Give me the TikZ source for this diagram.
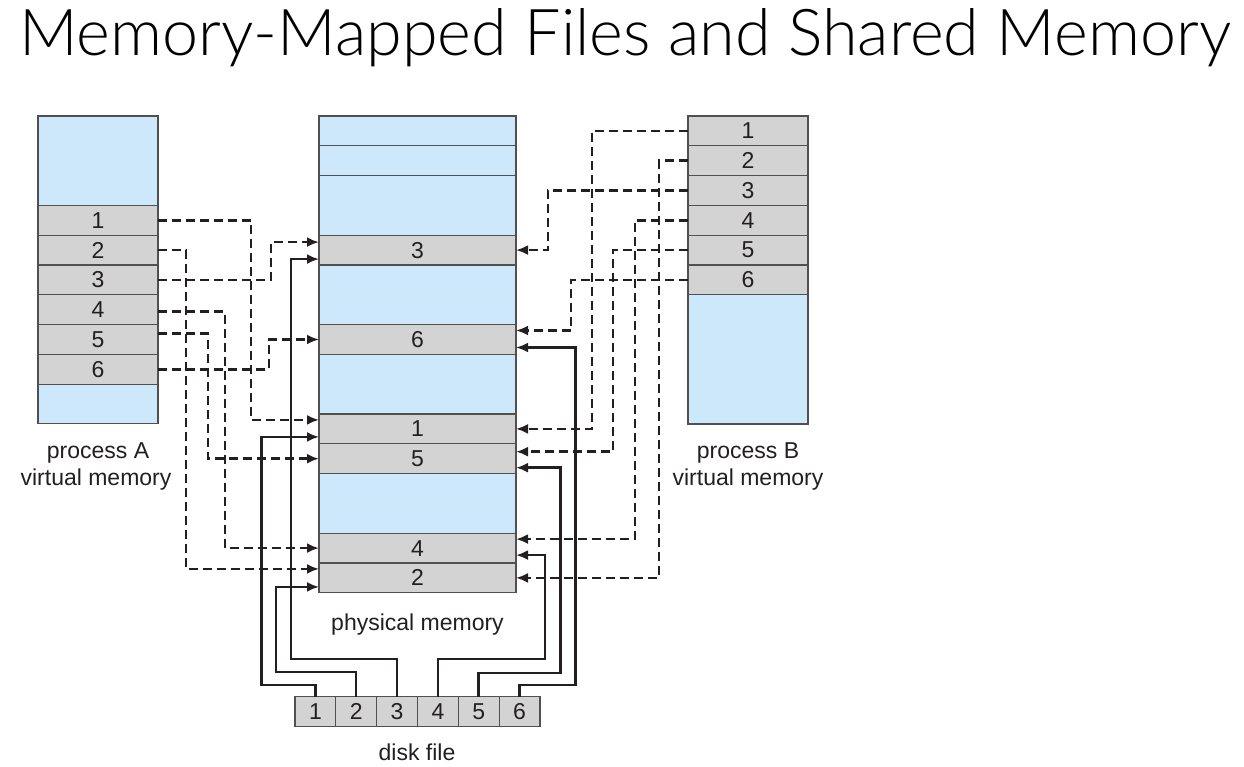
\documentclass[tikz,border=0pt]{standalone}
\usepackage{fontspec}
\setmainfont{Liberation Sans}
\newfontfamily\titlefont{Lato Light}
\usepackage{tikz}
\usetikzlibrary{positioning,arrows.meta}
\definecolor{memblue}{RGB}{205,232,250}
\definecolor{memgray}{RGB}{211,211,211}
\definecolor{memedge}{RGB}{80,80,80}
\definecolor{ink}{RGB}{35,31,32}

\begin{document}
\begin{tikzpicture}[x=1pt,y=-1pt,
  cell/.style={draw=memedge,line width=1.2pt,fill=memgray,inner sep=0pt,outer sep=0pt,
    minimum height=29.8pt,text=ink,font=\fontsize{23}{27}\selectfont},
  vcell/.style={cell,minimum width=120pt},
  pcell/.style={cell,minimum width=197pt},
  dcell/.style={cell,minimum width=40.83pt,minimum height=29.3pt},
  map/.style={ink,line width=2.5pt,dash pattern=on 9pt off 5pt,-{Latex[length=12pt,width=10pt]}},
  load/.style={ink,line width=2.5pt,-{Latex[length=12pt,width=10pt]}},
  lbl/.style={ink,font=\fontsize{23}{27}\selectfont,inner sep=0pt,anchor=base}]
\useasboundingbox (0,0) rectangle (1244,767);

\node[anchor=base west,inner sep=0pt,font=\titlefont\fontsize{64.6}{76}\selectfont] (title) at (19,55.5)
  {Memory-Mapped Files and Shared Memory};

% process A
\node[vcell,fill=memblue,minimum height=89.4pt,anchor=north] (a0) at (98,116) {};
\node[vcell,below=0pt of a0] (a1) {1};
\node[vcell,below=0pt of a1] (a2) {2};
\node[vcell,below=0pt of a2] (a3) {3};
\node[vcell,below=0pt of a3] (a4) {4};
\node[vcell,below=0pt of a4] (a5) {5};
\node[vcell,below=0pt of a5] (a6) {6};
\node[vcell,fill=memblue,minimum height=39.3pt,below=0pt of a6] (a7) {};
\node[lbl] (la1) at (98,458) {process A};
\node[lbl] (la2) at (96,485) {virtual memory};

% physical memory
\node[pcell,fill=memblue,anchor=north] (q1) at (417.5,116) {};
\node[pcell,fill=memblue,below=0pt of q1] (q2) {};
\node[pcell,fill=memblue,minimum height=59.6pt,below=0pt of q2] (q3) {};
\node[pcell,below=0pt of q3] (p3) {3};
\node[pcell,fill=memblue,minimum height=59.6pt,below=0pt of p3] (q4) {};
\node[pcell,below=0pt of q4] (p6) {6};
\node[pcell,fill=memblue,minimum height=59.6pt,below=0pt of p6] (q5) {};
\node[pcell,below=0pt of q5] (p1) {1};
\node[pcell,below=0pt of p1] (p5) {5};
\node[pcell,fill=memblue,minimum height=59.6pt,below=0pt of p5] (q6) {};
\node[pcell,below=0pt of q6] (p4) {4};
\node[pcell,below=0pt of p4] (p2) {2};
\node[lbl] (lp) at (417.5,630) {physical memory};

% process B
\node[vcell,anchor=north] (b1) at (748,116) {1};
\node[vcell,below=0pt of b1] (b2) {2};
\node[vcell,below=0pt of b2] (b3) {3};
\node[vcell,below=0pt of b3] (b4) {4};
\node[vcell,below=0pt of b4] (b5) {5};
\node[vcell,below=0pt of b5] (b6) {6};
\node[vcell,fill=memblue,minimum height=129.2pt,below=0pt of b6] (b7) {};
\node[lbl] (lb1) at (748,458) {process B};
\node[lbl] (lb2) at (748,485) {virtual memory};

% disk file
\node[dcell] (f1) at (315.4,711.5) {1};
\node[dcell,right=0pt of f1] (f2) {2};
\node[dcell,right=0pt of f2] (f3) {3};
\node[dcell,right=0pt of f3] (f4) {4};
\node[dcell,right=0pt of f4] (f5) {5};
\node[dcell,right=0pt of f5] (f6) {6};
\node[lbl] (lf) at (417,760) {disk file};

% process A -> physical memory
\draw[map] (a1.east) -- ++(93,0) |- ([yshift=9pt]p1.west);
\draw[map] (a2.east) -- ++(28,0) |- ([yshift=9pt]p2.west);
\draw[map] (a3.east) -- ++(113,0) |- ([yshift=8pt]p3.west);
\draw[map] ([yshift=-2pt]a4.east) -- ++(67,0) |- (p4.west);
\draw[map] ([yshift=6pt]a5.east) -- ++(50,0) |- (p5.west);
\draw[map] (a6.east) -- ++(111,0) |- (p6.west);

% process B -> physical memory
\draw[map] (b1.west) -- ++(-96,0) |- (p1.east);
\draw[map] (b2.west) -- ++(-29,0) |- (p2.east);
\draw[map] (b3.west) -- ++(-140,0) |- (p3.east);
\draw[map] (b4.west) -- ++(-53,0) |- ([yshift=9pt]p4.east);
\draw[map] (b5.west) -- ++(-75,0) |- ([yshift=7pt]p5.east);
\draw[map] (b6.west) -- ++(-117,0) |- ([yshift=9pt]p6.east);

% disk file -> physical memory
\draw[load] (f1.north) -- ++(0,-12) -- ++(-54,0) |- ([yshift=-8pt]p1.west);
\draw[load] (f2.north) -- ++(0,-25) -- ++(-80,0) |- ([yshift=-9pt]p2.west);
\draw[load] (f3.north) -- ++(0,-38) -- ++(-106,0) |- ([yshift=-9pt]p3.west);
\draw[load] (f4.north) -- ++(0,-38) -- ++(107,0) |- ([yshift=-7pt]p4.east);
\draw[load] (f5.north) -- ++(0,-24) -- ++(82,0) |- ([yshift=-9pt]p5.east);
\draw[load] (f6.north) -- ++(0,-12) -- ++(56,0) |- ([yshift=-8pt]p6.east);
\end{tikzpicture}
\end{document}
